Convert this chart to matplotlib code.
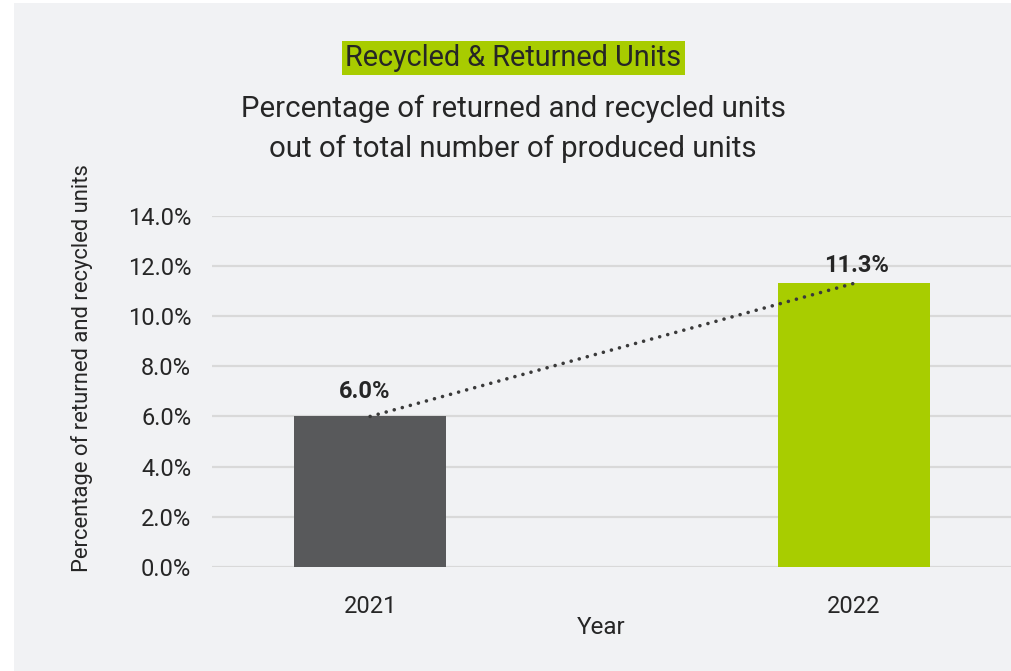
import numpy as np
import matplotlib
matplotlib.use('Agg')
import matplotlib.pyplot as plt
from matplotlib.patches import Rectangle

plt.rcParams['font.family'] = ['Roboto', 'DejaVu Sans']

# data
years = ['2021', '2022']
values = [6.0, 11.3]
bar_colors = ['#58595b', '#a8cd00']
yticks = [0, 2, 4, 6, 8, 10, 12, 14]

title = 'Recycled & Returned Units'
subtitle = 'Percentage of returned and recycled units\nout of total number of produced units'
ylabel = 'Percentage of returned and recycled units'
xlabel = 'Year'

bg = '#f1f2f4'
txt = '#262626'

fig = plt.figure(figsize=(10.11, 6.71), dpi=100, facecolor='white')
# gray panel (white strip on left/top)
fig.patches.append(Rectangle((14 / 1011, 0), 1, 1 - 3 / 671, transform=fig.transFigure,
                             facecolor=bg, edgecolor='none', zorder=-10))

ax = fig.add_axes([212 / 1011, 1 - 567 / 671, 1 - 212 / 1011, (567 - 215.7) / 671])
ax.set_facecolor('none')

x = np.arange(len(years))
ax.bar(x, values, width=0.314, color=bar_colors, zorder=3)
ax.plot(x, values, linestyle=(0, (0.01, 2.3)), dash_capstyle='round',
        color='#3a3a3a', lw=2.6, zorder=4)

offsets = [10, 5]
for xi, v, off in zip(x, values, offsets):
    ax.annotate('%.1f%%' % v, (xi, v), xytext=(-4 if xi == 0 else 2, off),
                textcoords='offset points', ha='center', va='bottom',
                fontsize=17, fontweight='bold', color=txt, zorder=5)

ax.set_xlim(-0.327, 1.3255)
ax.set_ylim(0, 14)
ax.set_yticks(yticks)
ax.set_yticklabels(['%.1f%%' % t for t in yticks])
ax.set_xticks(x)
ax.set_xticklabels(years)
ax.tick_params(axis='both', length=0, labelsize=17, colors=txt)
ax.tick_params(axis='y', pad=15)
ax.tick_params(axis='x', pad=20)
ax.grid(axis='y', color='#d9d9d9', lw=1.6, zorder=0)
for s in ax.spines.values():
    s.set_visible(False)

fig.text(0.5075, 1 - 58 / 671, title, ha='center', va='center', fontsize=20.8, color=txt,
         bbox=dict(facecolor='#a8cc00', edgecolor='none', pad=2.5))
fig.text(0.5075, 1 - 129 / 671, subtitle, ha='center', va='center', fontsize=21.2,
         color=txt, linespacing=1.55)
fig.text(82 / 1011, 1 - 368 / 671, ylabel, rotation=90, ha='center', va='center',
         fontsize=15.8, color=txt)
fig.text(601 / 1011, 1 - 627 / 671, xlabel, ha='center', va='center', fontsize=17.5, color=txt)

fig.savefig('out.png', dpi=100, facecolor=fig.get_facecolor())
